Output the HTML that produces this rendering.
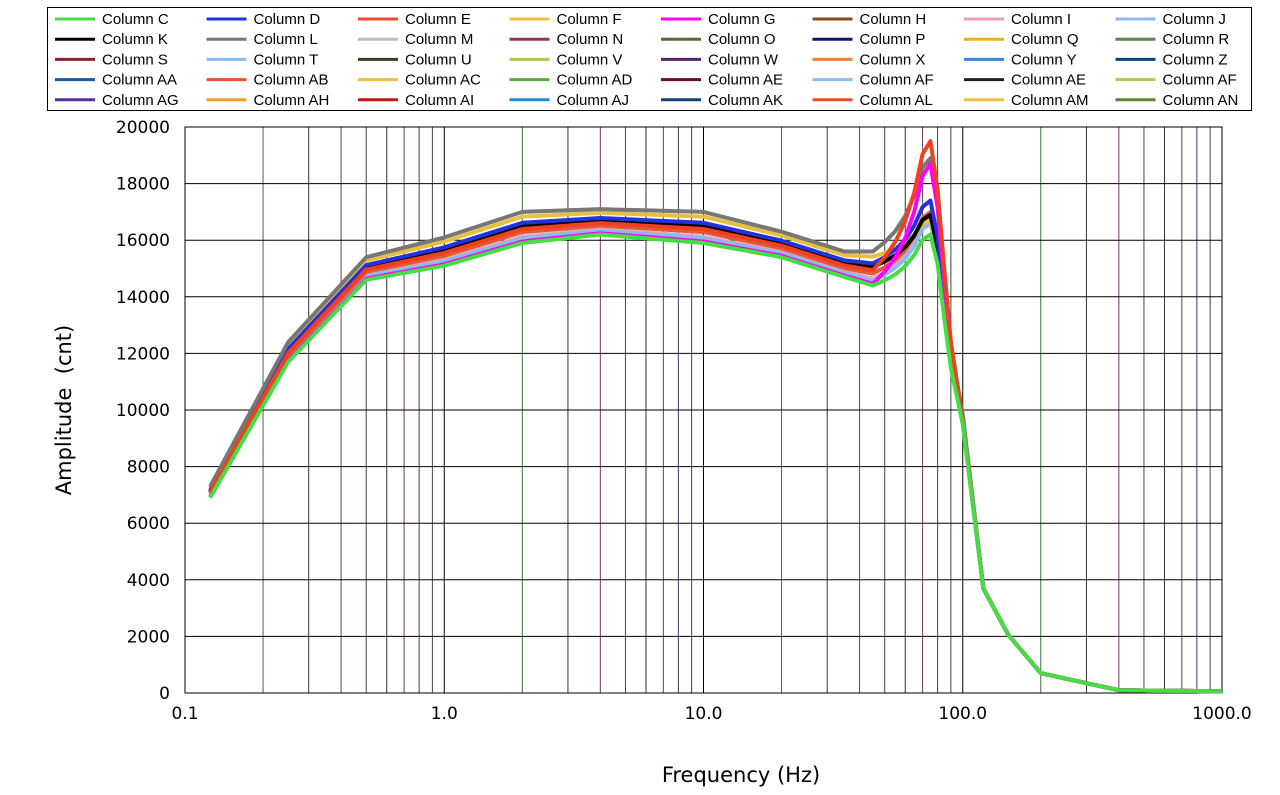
<!DOCTYPE html>
<html><head><meta charset="utf-8"><style>
html,body{margin:0;padding:0;background:#fff;}
svg{display:block;}
</style></head><body>
<svg id="s" width="1280" height="795" xmlns="http://www.w3.org/2000/svg"></svg>
<script>
const S=document.getElementById('s');let h='';
const X0=185,DEC=259.25,Y0=693,YS=566/20000;
const fx=f=>X0+(Math.log10(f)+1)*DEC, fy=v=>Y0-v*YS;
const gc=['#000','#3a6e3a','#333','#6b3a6b','#444','#333','#6b3a6b','#3a3a6e','#444'];
for(let d=0;d<4;d++)for(let k=1;k<=9;k++){const x=fx(Math.pow(10,d-1)*k);if(k==1&&d==0)continue;h+=`<line x1="${x}" y1="127" x2="${x}" y2="693" stroke="${gc[k-1]}" stroke-width="1"/>`;}
for(let v=2000;v<=20000;v+=2000){h+=`<line x1="185" y1="${fy(v)}" x2="1222" y2="${fy(v)}" stroke="#000" stroke-width="1"/>`;}
h+=`<rect x="185" y="127" width="1037" height="566" fill="none" stroke="#000" stroke-width="1"/>`;
for(let v=0;v<=20000;v+=2000)h+=`<text x="170" y="${fy(v)+6}" text-anchor="end" font-family="DejaVu Sans,sans-serif" font-size="17">${v}</text>`;
['0.1','1.0','10.0','100.0','1000.0'].forEach((t,i)=>h+=`<text x="${X0+i*DEC}" y="719" text-anchor="middle" font-family="DejaVu Sans,sans-serif" font-size="17">${t}</text>`);
h+=`<text x="741" y="782" text-anchor="middle" font-family="DejaVu Sans,sans-serif" font-size="21">Frequency (Hz)</text>`;
h+=`<text transform="translate(71,410) rotate(-90)" text-anchor="middle" font-family="DejaVu Sans,sans-serif" font-size="21" xml:space="preserve">Amplitude  (cnt)</text>`;
const F=[0.125,0.25,0.5,1,2,4,10,20,35,45,50,55,60,65,70,75,80,85,90,100,120,150,200,400,1000];
const lo=[6900,11700,14600,15100,15900,16200,15900,15400,14700,14400];
const hi=[7300,12400,15400,16100,17000,17100,17000,16300,15600,15600];
const W=[0.1,0.22,0.38,0.6,0.9,1];
const tail=[9500,3700,2050,700,100,60];
function ser(s,pk){const v=[];for(let i=0;i<10;i++)v.push(lo[i]+s*(hi[i]-lo[i]));
 const b=v[9];W.forEach(w=>v.push(b+w*(pk-b)));
 const p80=pk-1000-(pk-16000)*0.2;v.push(p80);v.push(p80-(p80-9500)*0.35);v.push(p80-(p80-9500)*0.65);
 tail.forEach((t,i)=>v.push(t+(i==0?s*300:0)));return v;}
const series=[
['#f0a0b0',0.2,16800],['#88bbee',0.15,16600],['#e05a3a',0.35,17000],['#e8c040',0.85,16700],
['#000',0.55,16900],['#2233dd',0.65,17400],['#777',1,18900],['#f0f',0.05,18700],
['#f04020',0.45,19500],['#44dd44',0,16200]];
series.forEach(([c,s,p])=>{const v=ser(s,p);h+=`<polyline fill="none" stroke="${c}" stroke-width="4" stroke-linejoin="round" points="${F.map((f,i)=>fx(f).toFixed(1)+','+fy(v[i]).toFixed(1)).join(' ')}"/>`;});
h+=`<rect x="47.5" y="7.5" width="1204" height="103" fill="#fff" stroke="#000"/>`;
const L=[['C','#44dd44'],['D','#2233dd'],['E','#f04a30'],['F','#f0c040'],['G','#f0f'],['H','#8b4a20'],['I','#f0a0b0'],['J','#88bbee'],
['K','#000'],['L','#777'],['M','#bbb'],['N','#993355'],['O','#556b2f'],['P','#111177'],['Q','#f0b000'],['R','#558844'],
['S','#882233'],['T','#88bbee'],['U','#334422'],['V','#aacc44'],['W','#552266'],['X','#f08030'],['Y','#3388dd'],['Z','#114477'],
['AA','#1a5a9a'],['AB','#f05030'],['AC','#f0c040'],['AD','#55aa44'],['AE','#661122'],['AF','#88bbee'],['AE','#222'],['AF','#aacc44'],
['AG','#553399'],['AH','#f0a020'],['AI','#cc1111'],['AJ','#2288dd'],['AK','#114477'],['AL','#f04a20'],['AM','#f0c040'],['AN','#558833']];
L.forEach(([n,c],i)=>{const col=i%8,row=Math.floor(i/8);const x=55+col*151.5,y=19+row*20.2;
h+=`<line x1="${x}" y1="${y}" x2="${x+40}" y2="${y}" stroke="${c}" stroke-width="3"/><text x="${x+47}" y="${y+5}" font-family="Liberation Sans,sans-serif" font-size="15">Column ${n}</text>`;});
S.innerHTML=h;
</script>
</body></html>
